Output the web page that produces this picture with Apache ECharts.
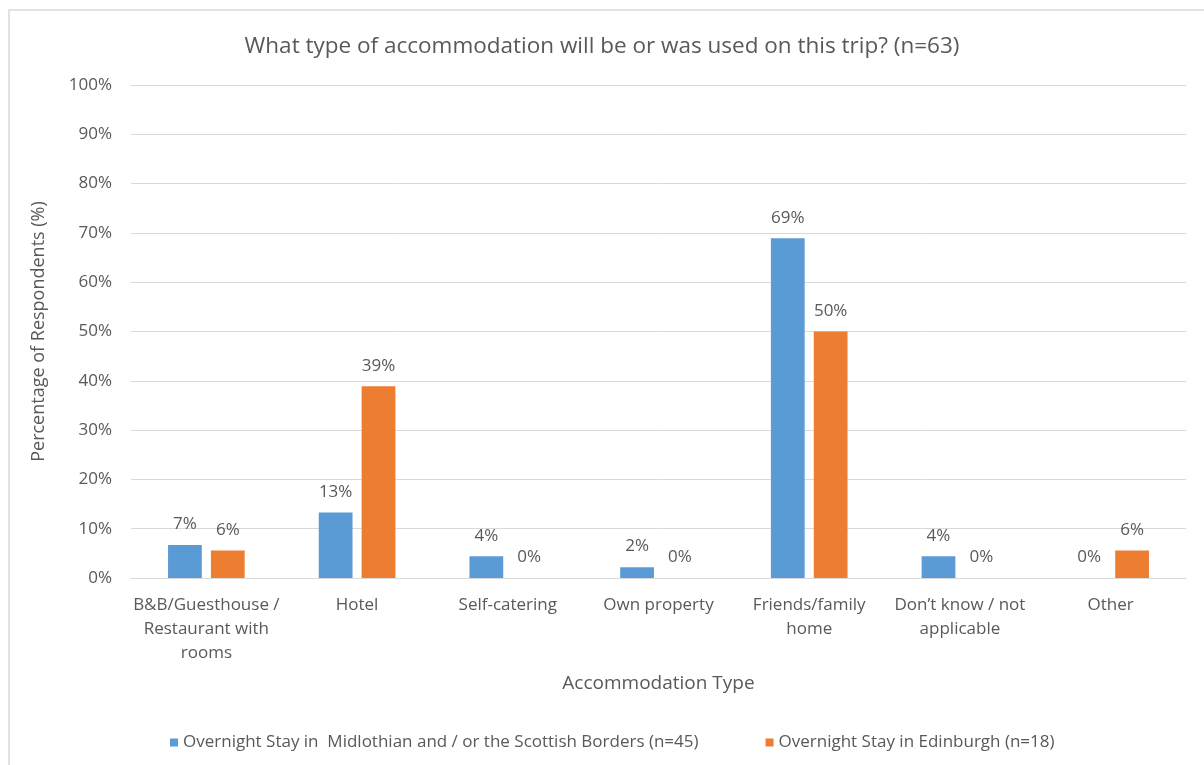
<!DOCTYPE html>
<html>
<head>
<meta charset="utf-8">
<script src="https://cdn.jsdelivr.net/npm/echarts@6/dist/echarts.min.js"></script>
<style>
  html, body { margin: 0; padding: 0; background: #fff; }
  #chart { width: 1204px; height: 765px; }
</style>
</head>
<body>
<div id="chart"></div>
<script>
  const categories = [
    'B&B/Guesthouse /\nRestaurant with\nrooms',
    'Hotel',
    'Self-catering',
    'Own property',
    'Friends/family\nhome',
    'Don\u2019t know / not\napplicable',
    'Other',
  ];
  const bordersValues = [6.7, 13.3, 4.4, 2.2, 68.9, 4.4, 0];
  const edinburghValues = [5.6, 38.9, 0, 0, 50, 0, 5.6];
  const seriesNames = [
    'Overnight Stay in  Midlothian and / or the Scottish Borders (n=45)',
    'Overnight Stay in Edinburgh (n=18)',
  ];

  const textColor = '#595959';
  const fontFamily = 'Open Sans, Noto Sans, sans-serif';

  const chart = echarts.init(document.getElementById('chart'));

  const barLabel = {
    show: true,
    position: 'top',
    distance: 12,
    color: textColor,
    fontSize: 17,
    fontFamily,
    formatter: (p) => Math.round(p.value) + '%',
  };

  chart.setOption({
    animation: false,
    textStyle: { fontFamily },
    title: {
      text: 'What type of accommodation will be or was used on this trip? (n=63)',
      left: 'center',
      top: 30,
      textStyle: {
        color: textColor,
        fontSize: 22.5,
        fontWeight: 'normal',
        fontFamily,
      },
    },
    graphic: [
      {
        type: 'rect',
        shape: { x: 9, y: 10, width: 1400, height: 1000 },
        style: { fill: 'none', stroke: '#d9d9d9', lineWidth: 1.5 },
        silent: true,
      },
    ],
    legend: {
      bottom: 9,
      left: 165,
      itemWidth: 8,
      itemHeight: 8,
      itemGap: 67,
      icon: 'rect',
      textStyle: { color: textColor, fontSize: 17, fontFamily },
      data: seriesNames,
    },
    grid: {
      left: 131,
      right: 18,
      top: 85,
      bottom: 187,
      containLabel: false,
      outerBoundsMode: 'none',
    },
    xAxis: {
      type: 'category',
      data: categories,
      name: 'Accommodation Type',
      nameLocation: 'middle',
      nameGap: 96,
      nameTextStyle: { color: textColor, fontSize: 19, fontFamily },
      axisLine: { lineStyle: { color: '#d9d9d9' } },
      axisTick: { show: false },
      axisLabel: {
        color: textColor,
        fontSize: 17,
        fontFamily,
        interval: 0,
        margin: 15,
        lineHeight: 24,
      },
    },
    yAxis: {
      type: 'value',
      min: 0,
      max: 100,
      interval: 10,
      name: 'Percentage of Respondents (%)',
      nameLocation: 'middle',
      nameGap: 83,
      nameTextStyle: { color: textColor, fontSize: 18, fontFamily },
      axisLine: { show: false },
      axisTick: { show: false },
      axisLabel: {
        color: textColor,
        fontSize: 17,
        fontFamily,
        margin: 19,
        formatter: '{value}%',
      },
      splitLine: { lineStyle: { color: '#d9d9d9' } },
    },
    series: [
      {
        name: seriesNames[0],
        type: 'bar',
        data: bordersValues,
        barWidth: '22.4%',
        barGap: '27%',
        itemStyle: { color: '#5b9bd5' },
        label: barLabel,
      },
      {
        name: seriesNames[1],
        type: 'bar',
        data: edinburghValues,
        barWidth: '22.4%',
        itemStyle: { color: '#ed7d31' },
        label: barLabel,
      },
    ],
  });
</script>
</body>
</html>
